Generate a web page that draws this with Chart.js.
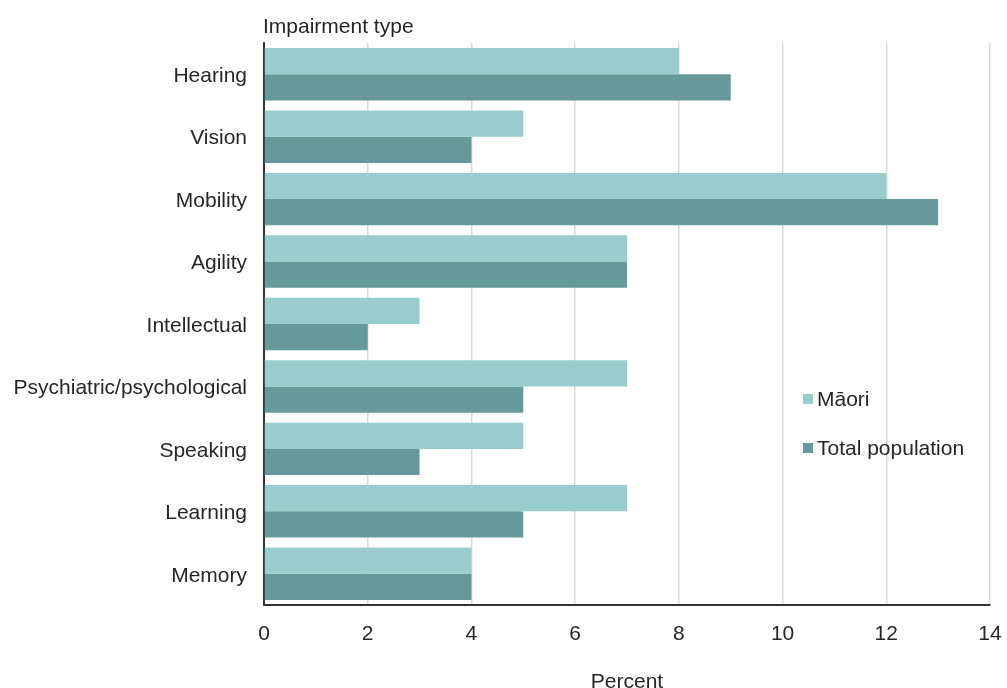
<!DOCTYPE html>
<html>
<head>
<meta charset="utf-8">
<script src="https://cdn.jsdelivr.net/npm/chart.js@4/dist/chart.umd.min.js"></script>
<style>
  html, body { margin: 0; padding: 0; background: #fff; }
  #wrap { width: 1007px; height: 688px; }
</style>
</head>
<body>
<div id="wrap"><canvas id="canvas" width="1007" height="688"></canvas></div>
<script>
var categories = ["Hearing", "Vision", "Mobility", "Agility", "Intellectual",
    "Psychiatric/psychological", "Speaking", "Learning", "Memory"]
var maori = [8, 5, 12, 7, 3, 7, 5, 7, 4]
var total = [9, 4, 13, 7, 2, 5, 3, 5, 4]
var seriesNames = ["M\u0101ori", "Total population"]
var axisTitle = "Impairment type"
var xTitle = "Percent"

var fontFamily = "'Liberation Sans', Arial, sans-serif"
var textColor = '#262626'

// title above the y labels + legend inside the plot
const extras = {
    id: 'extras',
    afterDraw: (chart) => {
        const ctx = chart.ctx
        const area = chart.chartArea
        ctx.save()
        ctx.fillStyle = textColor
        ctx.font = '21px ' + fontFamily
        ctx.textBaseline = 'middle'
        ctx.textAlign = 'left'
        ctx.fillText(axisTitle, area.left - 1, 27)

        var sets = chart.data.datasets
        var ys = [399, 448]
        for (let i = 0; i < sets.length; i++) {
            ctx.fillStyle = sets[i].backgroundColor
            ctx.fillRect(803, ys[i] - 5, 10, 10)
            ctx.fillStyle = textColor
            ctx.fillText(sets[i].label, 817, ys[i] + 1)
        }
        ctx.restore()
    }
}

new Chart(document.getElementById('canvas'), {
    type: 'bar',
    data: {
        labels: categories,
        datasets: [
            { label: seriesNames[0], data: maori, backgroundColor: '#99cccc' },
            { label: seriesNames[1], data: total, backgroundColor: '#669999' }
        ]
    },
    options: {
        indexAxis: 'y',
        responsive: false,
        animation: false,
        layout: { padding: { top: 43, right: 17, left: 0, bottom: 0 } },
        datasets: { bar: { categoryPercentage: 0.84, barPercentage: 1.0 } },
        plugins: {
            legend: { display: false },
            tooltip: { enabled: false }
        },
        scales: {
            x: {
                min: 0, max: 14,
                ticks: { stepSize: 2, color: textColor, font: { family: fontFamily, size: 21 }, padding: 17 },
                grid: { color: '#d9d9d9', drawTicks: false, lineWidth: 1.5 },
                border: { color: '#333', width: 2 },
                title: { display: true, text: xTitle, color: textColor, font: { family: fontFamily, size: 21, lineHeight: 1 }, padding: { top: 20, bottom: -5 } },
                afterFit: (s) => { s.height = 83; s.paddingRight = 0; s.paddingLeft = 0 }
            },
            y: {
                ticks: { color: textColor, font: { family: fontFamily, size: 21 }, padding: 17, labelOffset: 2 },
                grid: { display: false, drawTicks: false },
                border: { color: '#333', width: 2 },
                afterFit: (s) => { s.width = 264 }
            }
        }
    },
    plugins: [extras]
})
</script>
</body>
</html>
